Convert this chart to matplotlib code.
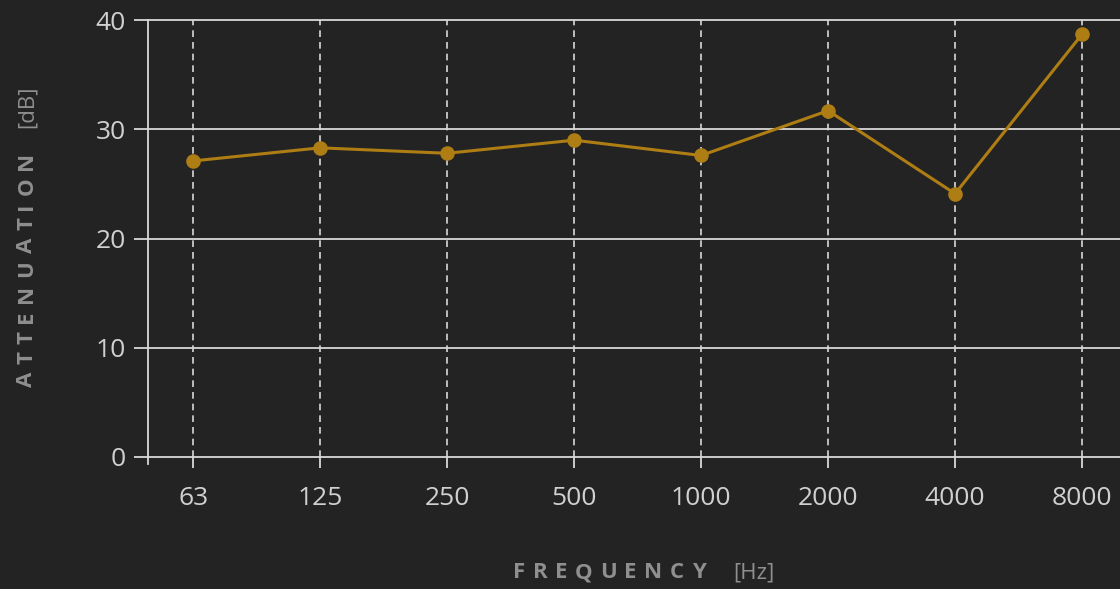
import numpy as np
import matplotlib.pyplot as plt

# octave band centre frequencies and measured attenuation
freqs = ["63", "125", "250", "500", "1000", "2000", "4000", "8000"]
atten = [27.1, 28.3, 27.8, 29.0, 27.6, 31.7, 24.1, 38.7]
y_ticks = [0, 10, 20, 30, 40]

bg = "#232323"
grid_col = "#d8d8d8"
line_col = "#ae7d14"
label_col = "#8f8f8f"

plt.rcParams["font.family"] = ["Open Sans", "DejaVu Sans"]

fig = plt.figure(figsize=(11.2, 5.89), dpi=100, facecolor=bg)
ax = fig.add_axes([148 / 1120, 132 / 589, 972 / 1120, 437 / 589])
ax.set_facecolor(bg)

x = np.arange(len(freqs))
ax.plot(x, atten, color=line_col, linewidth=2.2, marker="o", markersize=9.5, zorder=3)

ax.set_xlim(-0.355, -0.355 + 972 / 127)
ax.set_ylim(0, 40)
ax.set_xticks(x)
ax.set_xticklabels(freqs)
ax.set_yticks(y_ticks)

# solid horizontal grid, dashed vertical grid
for v in y_ticks:
    ax.axhline(v, color=grid_col, linewidth=1.3, zorder=1, clip_on=False)
for xi in x:
    ax.axvline(xi, color=grid_col, linewidth=1.2, linestyle=(0, (4, 3)), zorder=1)

for s in ["top", "right", "bottom"]:
    ax.spines[s].set_visible(False)
ax.spines["left"].set_color(grid_col)
ax.spines["left"].set_linewidth(1.3)
ax.spines["left"].set_bounds(-0.6, 40)

ax.tick_params(axis="y", length=10, width=1.3, color=grid_col, labelcolor="#d0d0d0",
               labelsize=19, pad=6)
ax.tick_params(axis="x", length=8, width=1.3, color=grid_col, labelcolor="#d0d0d0",
               labelsize=19, pad=13)

renderer = fig.canvas.get_renderer()


def tracked(start, pos, word, track, vertical=False, **kw):
    # draw a word letter by letter with extra spacing, returns end pixel
    cur = start
    for ch in word:
        if vertical:
            t = fig.text(pos / 1120, cur / 589, ch, rotation=90, ha="center", va="bottom", **kw)
            cur += t.get_window_extent(renderer).height + track
        else:
            t = fig.text(cur / 1120, pos / 589, ch, ha="left", va="center", **kw)
            cur += t.get_window_extent(renderer).width + track
    return cur - track


# axis titles with letter spacing
tracked(513, 589 - 573, "FREQUENCY", 7.5, color=label_col, fontsize=16, fontweight="bold")
fig.text(733 / 1120, 1 - 573 / 589, "[Hz]", color=label_col, fontsize=16,
         ha="left", va="center")
tracked(589 - 387, 27, "ATTENUATION", 7.5, vertical=True, color=label_col, fontsize=16,
        fontweight="bold")
fig.text(27 / 1120, 1 - 128 / 589, "[dB]", color=label_col, fontsize=16,
         rotation=90, ha="center", va="bottom")

fig.savefig("out.png", dpi=100, facecolor=bg)
